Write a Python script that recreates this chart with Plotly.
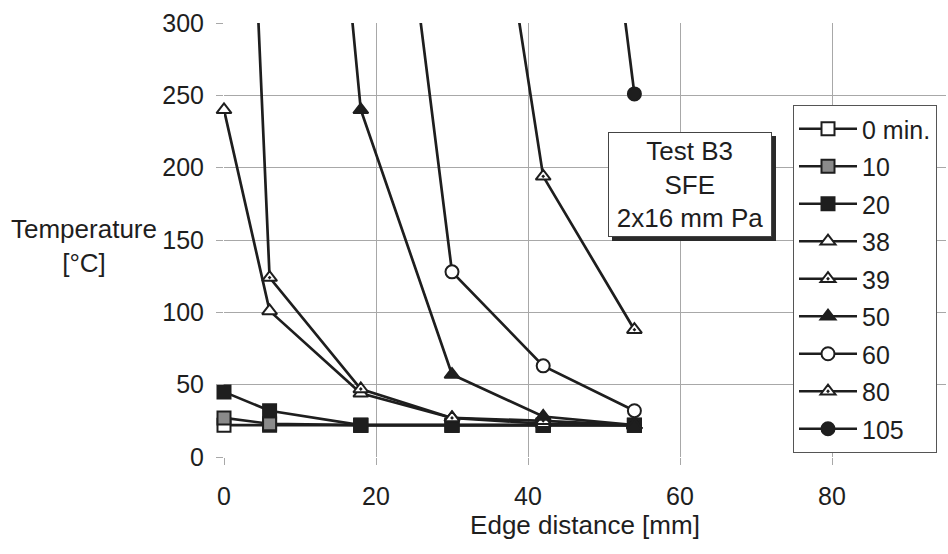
import plotly.graph_objects as go

# ---- data -------------------------------------------------------------
edge_mm = [0, 6, 18, 30, 42, 54]

series_names = ["0 min.", "10", "20", "38", "39", "50", "60", "80", "105"]

t_0 = [22, 22, 22, 22, 22, 22]
t_10 = [27, 23, 22, 22, 22, 22]
t_20 = [45, 32, 22, 22, 22, 22]
t_38 = [240, 101, 44, 27, 23, 22]
t_39 = [845, 124, 47, 27, 25, 22]
t_50 = [None, 900, 240, 57, 28, 22]
t_60 = [None, None, 630, 128, 63, 32]
t_80 = [None, None, None, 600, 194, 88]
t_105 = [None, None, None, None, 750, 251]

x_ticks = [0, 20, 40, 60, 80]
y_ticks = [0, 50, 100, 150, 200, 250, 300]

# ---- styling ----------------------------------------------------------
FONT = "Liberation Sans, Arial, sans-serif"
INK = "#1e1e1e"
GRID = "#a8a8a8"

styles = [
    dict(symbol="square", color="white"),
    dict(symbol="square", color="#8a8a8a"),
    dict(symbol="square", color=INK),
    dict(symbol="triangle-up", color="white"),
    dict(symbol="triangle-up-dot", color="white"),
    dict(symbol="triangle-up", color=INK),
    dict(symbol="circle", color="white"),
    dict(symbol="triangle-up-dot", color="white"),
    dict(symbol="circle", color=INK),
]
values = [t_0, t_10, t_20, t_38, t_39, t_50, t_60, t_80, t_105]

fig = go.Figure()
for name, vals, st in zip(series_names, values, styles):
    fig.add_trace(go.Scatter(
        x=edge_mm, y=vals, name=name, mode="lines+markers",
        legendgroup=name, cliponaxis=False,
        line=dict(color=INK, width=2.7),
        marker=dict(symbol=st["symbol"], color=st["color"], size=13,
                    line=dict(color=INK, width=2)),
        connectgaps=False,
    ))

W, H = 948, 554
ML, MR, MT, MB = 224, 2, 23, 97
PW, PH = W - ML - MR, H - MT - MB


def px_x(p):
    return (p - ML) / PW


def px_y(p):
    return (H - MB - p) / PH


fig.update_layout(
    width=W, height=H,
    margin=dict(l=ML, r=MR, t=MT, b=MB, pad=0, autoexpand=False),
    paper_bgcolor="white", plot_bgcolor="white",
    font=dict(family=FONT, size=25, color=INK),
    showlegend=True,
    legend=dict(
        x=px_x(793), y=px_y(105), xanchor="left", yanchor="top",
        bgcolor="white", bordercolor="#555", borderwidth=1,
        font=dict(size=25, family=FONT, color=INK),
        tracegroupgap=2, itemwidth=58,
        entrywidth=78, entrywidthmode="pixels",
    ),
    xaxis=dict(
        range=[0, 95], tickvals=x_ticks, ticktext=[str(v) for v in x_ticks],
        showgrid=True, gridcolor=GRID, gridwidth=1,
        zeroline=False, showline=False,
        ticks="outside", ticklen=7, tickcolor=GRID,
        tickfont=dict(size=25), ticklabelstandoff=10,
        title=dict(text="Edge distance [mm]", font=dict(size=26), standoff=5),
    ),
    yaxis=dict(
        range=[0, 300], tickvals=y_ticks, ticktext=[str(v) for v in y_ticks],
        showgrid=True, gridcolor=GRID, gridwidth=1,
        zeroline=False, showline=False,
        ticks="outside", ticklen=7, tickcolor=GRID,
        tickfont=dict(size=25), ticklabelstandoff=7,
    ),
)

# y-axis title (horizontal, left side)
fig.add_annotation(
    text="Temperature<br>[°C]", xref="paper", yref="paper",
    x=px_x(84), y=px_y(246), xanchor="center", yanchor="middle",
    showarrow=False, font=dict(size=26, color=INK), align="center",
)

# text box shadow
fig.add_shape(
    type="rect", xref="paper", yref="paper",
    x0=px_x(612), x1=px_x(776), y0=px_y(241), y1=px_y(136),
    fillcolor="#2a2a2a", line=dict(width=0), layer="above",
)
# text box
fig.add_annotation(
    text="Test B3<br>SFE<br>2x16 mm Pa", xref="paper", yref="paper",
    x=px_x(690), y=px_y(184.5), xanchor="center", yanchor="middle",
    showarrow=False, font=dict(size=26, color=INK), align="center",
    bgcolor="white", bordercolor="#444", borderwidth=1,
    width=160, height=101,
)

fig.write_html("out.html",
               config={"displayModeBar": False},
               post_script="document.body.style.margin='0';")
